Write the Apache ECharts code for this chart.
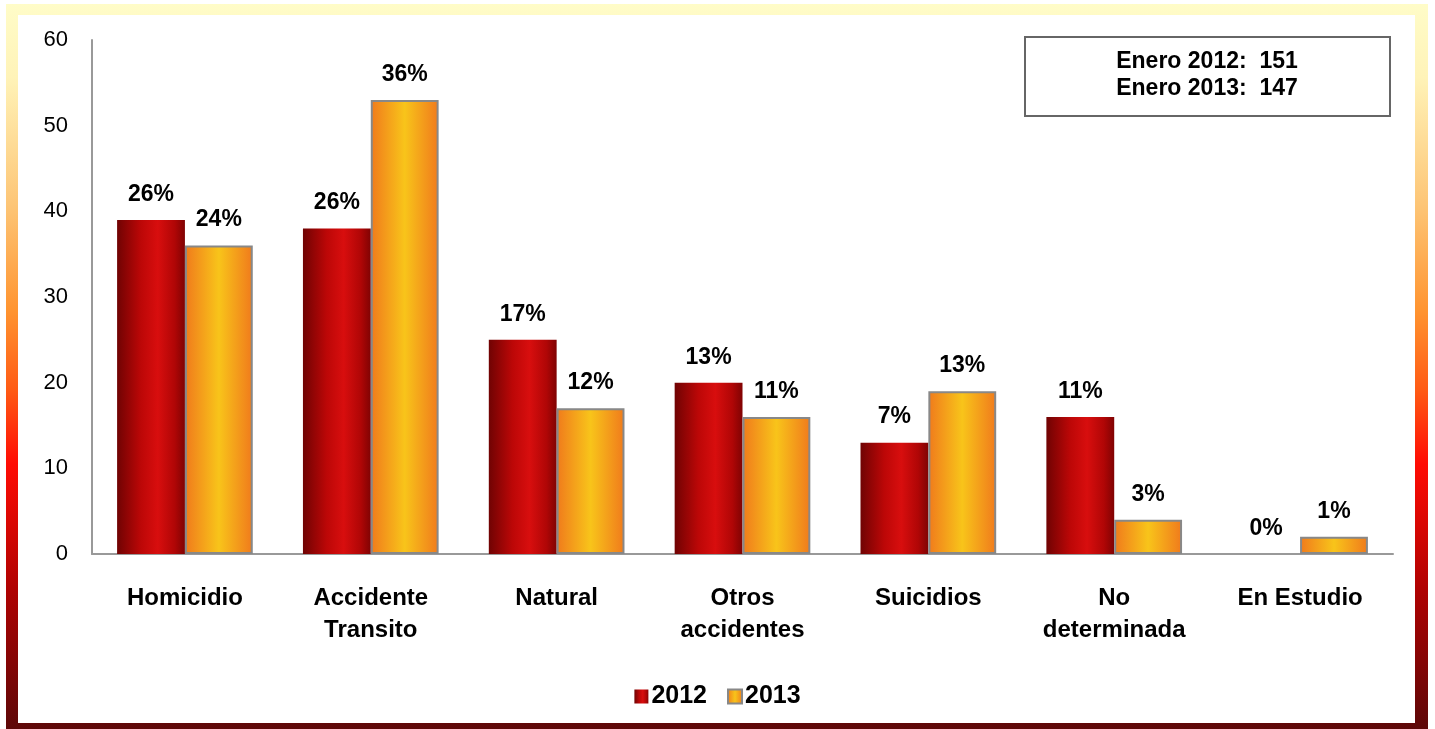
<!DOCTYPE html>
<html>
<head>
<meta charset="utf-8">
<style>
html,body{margin:0;padding:0;background:#fff;}
#chart{width:1435px;height:729px;}
</style>
<script src="https://cdn.jsdelivr.net/npm/echarts@6/dist/echarts.min.js"></script>
</head>
<body>
<div id="chart"></div>
<script>
var categories = ['Homicidio', 'Accidente\nTransito', 'Natural', 'Otros\naccidentes', 'Suicidios', 'No\ndeterminada', 'En Estudio'];
var values2012 = [39, 38, 25, 20, 13, 16, 0];
var values2013 = [36, 53, 17, 16, 19, 4, 2];
var pct2012 = ['26%', '26%', '17%', '13%', '7%', '11%', '0%'];
var pct2013 = ['24%', '36%', '12%', '11%', '13%', '3%', '1%'];
var seriesNames = ['2012', '2013'];
var totalsText = ['Enero 2012:  151', 'Enero 2013:  147'];
var yTicks = [0, 10, 20, 30, 40, 50, 60];

var FONT = '"Liberation Sans", Arial, sans-serif';

var redFill = new echarts.graphic.LinearGradient(0, 0, 1, 0, [
  {offset: 0, color: '#700303'},
  {offset: 0.35, color: '#bc0707'},
  {offset: 0.6, color: '#d80e0e'},
  {offset: 0.85, color: '#b00606'},
  {offset: 1, color: '#800303'}
]);
var orangeFill = new echarts.graphic.LinearGradient(0, 0, 1, 0, [
  {offset: 0, color: '#f07a1c'},
  {offset: 0.5, color: '#f8c41a'},
  {offset: 1, color: '#f07a1c'}
]);

var chart = echarts.init(document.getElementById('chart'));
chart.setOption({
  animation: false,
  backgroundColor: '#ffffff',
  textStyle: {fontFamily: FONT},
  graphic: [
    {
      type: 'rect', z: -10, silent: true,
      shape: {x: 6, y: 4, width: 1422, height: 730},
      style: {
        fill: new echarts.graphic.LinearGradient(0, 0, 0, 1, [
          {offset: 0, color: '#fffcc8'},
          {offset: 0.1, color: '#fff3b8'},
          {offset: 0.28, color: '#fdc474'},
          {offset: 0.42, color: '#ff9430'},
          {offset: 0.53, color: '#ff5a14'},
          {offset: 0.63, color: '#ff0c04'},
          {offset: 0.8, color: '#b00202'},
          {offset: 1, color: '#5a0808'}
        ])
      }
    },
    {
      type: 'rect', z: -9, silent: true,
      shape: {x: 18, y: 15, width: 1397, height: 708},
      style: {fill: '#ffffff'}
    },
    {
      type: 'rect', z: 5, silent: true,
      shape: {x: 1025, y: 37, width: 365, height: 79},
      style: {fill: '#ffffff', stroke: '#666666', lineWidth: 2}
    },
    {
      type: 'text', z: 6, silent: true,
      x: 1207, y: 62,
      style: {text: totalsText[0], fill: '#000', font: 'bold 23px ' + FONT, align: 'center', verticalAlign: 'middle'}
    },
    {
      type: 'text', z: 6, silent: true,
      x: 1207, y: 89,
      style: {text: totalsText[1], fill: '#000', font: 'bold 23px ' + FONT, align: 'center', verticalAlign: 'middle'}
    }
  ],
  grid: {left: 92, right: 42, top: 40, bottom: 175, containLabel: false},
  legend: {
    top: 679,
    left: 'center',
    itemWidth: 14,
    itemHeight: 14,
    itemGap: 20,
    icon: 'rect',
    textStyle: {fontFamily: FONT, fontSize: 25, fontWeight: 'bold', color: '#000', padding: [0, 0, 0, -2]},
    data: seriesNames
  },
  xAxis: {
    type: 'category',
    data: categories,
    axisLine: {show: true, lineStyle: {color: '#999999', width: 2}},
    axisTick: {show: false},
    axisLabel: {
      interval: 0, margin: 28,
      fontFamily: FONT, fontSize: 24, fontWeight: 'bold', color: '#000', lineHeight: 32
    }
  },
  yAxis: {
    type: 'value',
    min: yTicks[0], max: yTicks[yTicks.length - 1], interval: 10,
    splitLine: {show: false},
    axisLine: {show: true, lineStyle: {color: '#999999', width: 2}},
    axisTick: {show: false},
    axisLabel: {margin: 24, fontFamily: FONT, fontSize: 22, color: '#000'}
  },
  series: [
    {
      name: seriesNames[0],
      type: 'bar',
      data: values2012,
      barGap: '0%',
      barCategoryGap: '27%',
      itemStyle: {color: redFill},
      label: {
        show: true, position: 'top', distance: 14,
        fontFamily: FONT, fontSize: 23, fontWeight: 'bold', color: '#000',
        formatter: function (p) { return pct2012[p.dataIndex]; }
      }
    },
    {
      name: seriesNames[1],
      type: 'bar',
      data: values2013,
      itemStyle: {color: orangeFill, borderColor: '#888888', borderWidth: 2},
      label: {
        show: true, position: 'top', distance: 14,
        fontFamily: FONT, fontSize: 23, fontWeight: 'bold', color: '#000',
        formatter: function (p) { return pct2013[p.dataIndex]; }
      }
    }
  ]
});
</script>
</body>
</html>
